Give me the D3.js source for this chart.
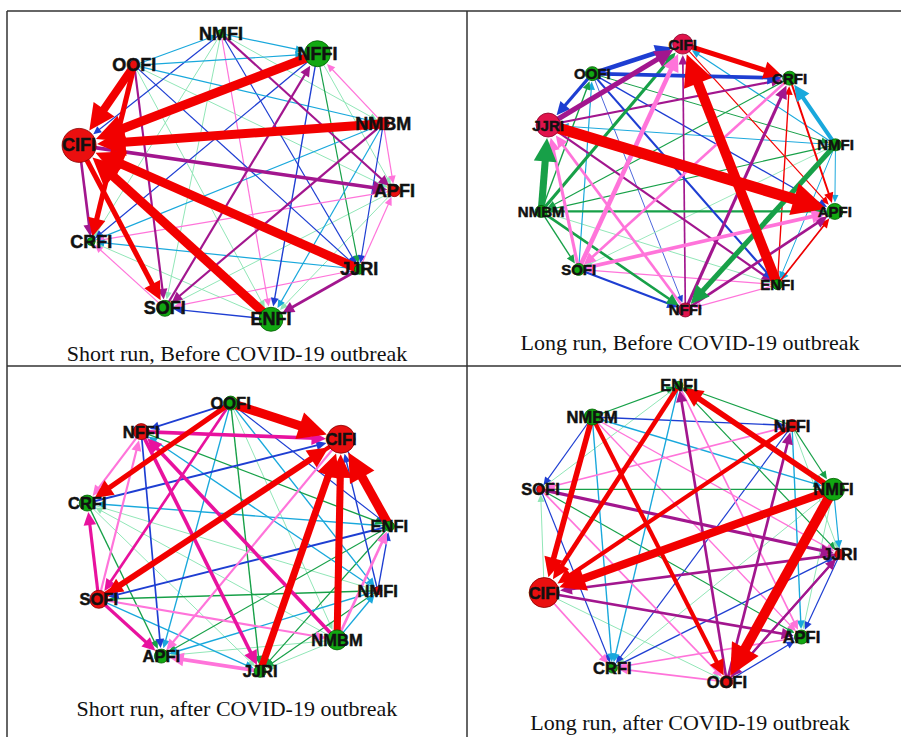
<!DOCTYPE html>
<html>
<head>
<meta charset="utf-8">
<script src="https://cdn.jsdelivr.net/npm/d3@7"></script>
<style>
  body { margin: 0; background: #fff; }
  svg { display: block; }
</style>
</head>
<body>
<div id="chart"></div>
<script>
// ---- data: node order round each ring (angle in degrees, clockwise from top)
const ringSRBefore  = ["NMFI","NFFI","NMBM","APFI","JJRI","ENFI","SOFI","CRFI","CIFI","OOFI"];
const angleSRBefore = [-5, 31, 68, 95, 129, 167, 206, 244, 283, 321];
const ringLRBefore  = ["CIFI","CRFI","NMFI","APFI","ENFI","NFFI","SOFI","NMBM","JJRI","OOFI"];
const angleLRBefore = [-2, 42, 76, 105, 144, 181, 226, 255, 293, 321];
const ringSRAfter   = ["OOFI","CIFI","ENFI","NMFI","NMBM","JJRI","APFI","SOFI","CRFI","NFFI"];
const angleSRAfter  = [-2, 43, 85, 113, 139, 171, 209, 243, 285, 322];
const ringLRAfter   = ["ENFI","NFFI","NMFI","JJRI","APFI","OOFI","CRFI","CIFI","SOFI","NMBM"];
const angleLRAfter  = [-3, 43, 72, 97, 132, 165, 209, 248, 288, 322];

// node colour class and node size
const nodesSRBefore = [["CIFI","r",17],["OOFI","r",5],["NMBM","r",6],["APFI","r",6],["NMFI","g",4],
  ["NFFI","g",13],["JJRI","g",5],["CRFI","g",4],["SOFI","g",8],["ENFI","g",12]];
const nodesLRBefore = [["CIFI","k",10],["CRFI","g",7],["NMFI","g",6],["APFI","g",8],["ENFI","g",5],
  ["NFFI","k",7],["SOFI","g",6],["NMBM","g",6],["JJRI","k",12],["OOFI","g",7]];
const nodesSRAfter = [["OOFI","g",7],["CIFI","r",14],["ENFI","g",5],["NMFI","r",4],["NMBM","g",10],
  ["JJRI","g",6],["APFI","g",7],["SOFI","r",9],["CRFI","g",8],["NFFI","r",8]];
const nodesLRAfter = [["ENFI","g",4],["NFFI","r",6],["NMFI","g",11],["JJRI","r",5],["APFI","g",7],
  ["OOFI","r",6],["CRFI","g",5],["CIFI","r",15],["SOFI","r",4],["NMBM","g",8]];

// directed spillover edges: [from, to, strength, colour class]
const edgesSRBefore = [
  ["OOFI","CIFI",8,"r"],["NFFI","CIFI",9,"r"],["NMBM","CIFI",9,"r"],["JJRI","CIFI",9,"r"],
  ["ENFI","CIFI",9,"r"],["CIFI","SOFI",5,"r"],["OOFI","CRFI",5,"r"],
  ["CIFI","CRFI",2.5,"m"],["CIFI","APFI",3.5,"m"],["NMFI","APFI",2,"m"],["SOFI","NFFI",2,"m"],
  ["NMBM","SOFI",2,"m"],["JJRI","ENFI",2.5,"m"],["OOFI","SOFI",2,"m"],
  ["NMFI","NFFI",1,"c"],["NMFI","NMBM",0.8,"l"],["NMFI","JJRI",1,"b"],["NMFI","ENFI",1,"p"],
  ["NMFI","SOFI",0.8,"l"],["NMFI","CRFI",0.8,"l"],["NMFI","CIFI",1,"b"],["OOFI","NMFI",1,"c"],
  ["NMBM","NFFI",1,"p"],["NFFI","APFI",0.8,"l"],["NFFI","JJRI",1,"g"],["NFFI","ENFI",1.2,"b"],
  ["NFFI","CRFI",1,"b"],["OOFI","NFFI",1,"c"],["NMBM","APFI",1,"p"],["NMBM","JJRI",1,"b"],
  ["NMBM","ENFI",1,"c"],["NMBM","CRFI",1,"c"],["OOFI","NMBM",1,"c"],["JJRI","APFI",1,"p"],
  ["APFI","ENFI",0.8,"l"],["APFI","SOFI",0.8,"l"],["APFI","CRFI",1,"p"],["OOFI","APFI",0.8,"l"],
  ["JJRI","SOFI",1,"p"],["JJRI","CRFI",1,"c"],["OOFI","JJRI",1,"b"],["ENFI","SOFI",1.2,"b"],
  ["ENFI","CRFI",0.8,"l"],["OOFI","ENFI",0.8,"l"],["SOFI","CRFI",1,"p"]
];
const edgesLRBefore = [
  ["JJRI","APFI",11,"r"],["ENFI","CIFI",10,"r"],["CIFI","CRFI",5,"r"],
  ["OOFI","CIFI",4.5,"b"],["OOFI","CRFI",3.5,"b"],["OOFI","JJRI",3,"b"],["JJRI","CIFI",5,"m"],
  ["NMFI","CRFI",4,"c"],["NMFI","NFFI",5,"g"],["NMBM","JJRI",7,"g"],["NMBM","CIFI",3,"g"],
  ["SOFI","CIFI",4.5,"p"],["SOFI","JJRI",3,"p"],["SOFI","APFI",3.5,"p"],["NFFI","JJRI",2.5,"p"],
  ["NFFI","CRFI",3,"m"],["NFFI","CIFI",1.5,"m"],["NFFI","APFI",2.5,"m"],["JJRI","ENFI",2,"m"],
  ["JJRI","CRFI",2,"m"],["NMBM","APFI",2,"g"],["NMBM","NFFI",2.5,"g"],["NMBM","SOFI",1.2,"g"],
  ["NMBM","OOFI",1.2,"g"],["SOFI","NFFI",2,"b"],["SOFI","OOFI",1,"c"],["OOFI","ENFI",2,"b"],
  ["OOFI","APFI",1.2,"b"],["OOFI","NFFI",0.6,"b"],["OOFI","NMFI",0.8,"g"],["CIFI","APFI",1,"r"],
  ["CRFI","APFI",1.8,"r"],["ENFI","CRFI",1.2,"r"],["ENFI","APFI",1.5,"r"],["NMFI","APFI",0.8,"c"],
  ["NMFI","ENFI",0.8,"c"],["NMFI","CIFI",1,"c"],["NMFI","JJRI",0.8,"c"],["NMFI","NMBM",1,"g"],
  ["NMFI","SOFI",0.7,"l"],["CRFI","NMBM",1,"g"],["CRFI","SOFI",2.5,"p"],["APFI","ENFI",0.8,"c"],
  ["ENFI","NFFI",1,"p"],["ENFI","SOFI",1,"p"],["NMBM","ENFI",0.8,"l"],["APFI","SOFI",0.8,"l"]
];
const edgesSRAfter = [
  ["OOFI","CIFI",9,"r"],["OOFI","CRFI",5,"r"],["ENFI","CIFI",9,"r"],["NMBM","CIFI",7,"r"],
  ["JJRI","CIFI",7,"r"],["SOFI","CIFI",6,"r"],["CIFI","SOFI",4,"r"],
  ["NFFI","CIFI",3.5,"h"],["NMBM","NFFI",3.5,"h"],["NFFI","JJRI",3.5,"h"],["OOFI","SOFI",2.5,"h"],
  ["SOFI","APFI",3,"h"],["SOFI","CRFI",3,"h"],
  ["NFFI","CRFI",2,"p"],["SOFI","NFFI",2,"p"],["CIFI","APFI",2,"p"],["NMBM","ENFI",2.5,"p"],
  ["SOFI","NMBM",2,"p"],["JJRI","APFI",3.5,"p"],
  ["OOFI","NFFI",1.5,"b"],["NFFI","APFI",1.5,"b"],["CRFI","CIFI",1.8,"b"],["CIFI","ENFI",1.2,"b"],
  ["NMFI","CIFI",1.2,"b"],["ENFI","SOFI",1.8,"b"],["NMFI","ENFI",1.2,"b"],["OOFI","ENFI",1,"b"],
  ["OOFI","APFI",1.2,"c"],["OOFI","NMFI",1.2,"c"],["NMFI","NFFI",1.2,"c"],["ENFI","CRFI",1.2,"c"],
  ["NMBM","NMFI",1.2,"c"],["NMFI","APFI",1.2,"c"],["SOFI","JJRI",1.2,"c"],
  ["OOFI","JJRI",1.2,"g"],["NFFI","ENFI",1.2,"g"],["ENFI","APFI",1,"g"],["ENFI","JJRI",1,"g"],
  ["NMFI","SOFI",1.2,"g"],["NMFI","JJRI",1,"g"],["CRFI","APFI",1.2,"g"],
  ["OOFI","NMBM",0.8,"l"],["NMBM","JJRI",0.8,"l"],["NMBM","APFI",0.8,"l"],["NMBM","CRFI",0.8,"l"],
  ["CRFI","JJRI",0.8,"l"],["CRFI","NMFI",0.8,"l"]
];
const edgesLRAfter = [
  ["NMFI","OOFI",10,"r"],["NMFI","CIFI",8,"r"],["NMFI","ENFI",5.5,"r"],["NMBM","CIFI",5.5,"r"],
  ["ENFI","CIFI",4.5,"r"],["NFFI","CIFI",4,"r"],["NMBM","OOFI",4,"r"],
  ["OOFI","ENFI",2.5,"m"],["OOFI","NFFI",2.5,"m"],["OOFI","JJRI",2,"m"],["JJRI","OOFI",2,"m"],
  ["SOFI","JJRI",3,"m"],["JJRI","CIFI",2.5,"m"],["CIFI","APFI",2.5,"m"],
  ["CIFI","CRFI",1.5,"p"],["NMBM","JJRI",1.2,"p"],["NMBM","APFI",1.2,"p"],["NFFI","SOFI",1.5,"p"],
  ["ENFI","APFI",1.5,"p"],["SOFI","OOFI",1.5,"p"],["APFI","CRFI",1.5,"p"],["OOFI","CRFI",1.5,"p"],
  ["NMBM","NFFI",1.2,"b"],["NMBM","SOFI",1,"b"],["SOFI","CRFI",1,"b"],["NFFI","CRFI",1,"b"],
  ["CRFI","JJRI",1.2,"b"],["JJRI","APFI",1,"b"],["OOFI","APFI",1,"b"],
  ["NMBM","CRFI",1.2,"c"],["ENFI","CRFI",1.2,"c"],["NMBM","NMFI",1.2,"c"],["NFFI","APFI",1.2,"c"],
  ["NMFI","JJRI",1,"c"],
  ["NMBM","ENFI",1,"g"],["NFFI","NMFI",1,"g"],["NFFI","ENFI",1,"g"],["NMFI","SOFI",1.2,"g"],
  ["ENFI","JJRI",1,"g"],["ENFI","NMFI",1,"g"],["SOFI","APFI",1,"g"],
  ["NFFI","JJRI",0.8,"l"],["NMFI","APFI",0.8,"l"],["NMFI","CRFI",0.8,"l"],["CIFI","SOFI",0.8,"l"],
  ["CIFI","OOFI",0.8,"l"],["SOFI","ENFI",0.8,"l"]
];

const captions = [
  "Short run, Before COVID-19 outbreak",
  "Long run, Before COVID-19 outbreak",
  "Short run, after COVID-19 outbreak",
  "Long run, after COVID-19 outbreak"
];

// ---- layout
const W = 901, H = 737;
const panels = [
  {ring: ringSRBefore, ang: angleSRBefore, nodes: nodesSRBefore, edges: edgesSRBefore,
   cx: 235, cy: 178, rx: 160, ry: 145, font: 18, cap: [237, 361]},
  {ring: ringLRBefore, ang: angleLRBefore, nodes: nodesLRBefore, edges: edgesLRBefore,
   cx: 688, cy: 177, rx: 152, ry: 133, font: 15, cap: [690, 350]},
  {ring: ringSRAfter, ang: angleSRAfter, nodes: nodesSRAfter, edges: edgesSRAfter,
   cx: 236, cy: 538, rx: 154, ry: 135, font: 16.5, cap: [237, 716]},
  {ring: ringLRAfter, ang: angleLRAfter, nodes: nodesLRAfter, edges: edgesLRAfter,
   cx: 687, cy: 536, rx: 154, ry: 151, font: 16.5, cap: [690, 730]}
];

const edgeColor = d3.scaleOrdinal()
  .domain(["r","m","h","p","b","c","g","l"])
  .range(["#f20000","#a2168e","#e8129e","#ff74da","#1e3ed2","#19a8dc","#17a048","#8fe6b6"]);
const nodeFill = d3.scaleOrdinal().domain(["r","g","k"]).range(["#ea0f0f","#12a812","#e0144c"]);
const nodeStroke = d3.scaleOrdinal().domain(["r","g","k"]).range(["#8a0000","#006000","#8a0028"]);
const strokeW = d3.scaleLinear().domain([0, 11]).range([0.2, 11]);
const deg = d3.scaleLinear().domain([0, 360]).range([0, 2 * Math.PI]);

const svg = d3.select("#chart").append("svg")
  .attr("width", W).attr("height", H);

// table frame
const frame = svg.append("g").attr("stroke", "#333").attr("stroke-width", 1.5);
frame.append("line").attr("x1", 7).attr("x2", W).attr("y1", 11).attr("y2", 11);
frame.append("line").attr("x1", 7).attr("x2", 7).attr("y1", 11).attr("y2", H);
frame.append("line").attr("x1", 467).attr("x2", 467).attr("y1", 11).attr("y2", H);
frame.append("line").attr("x1", 7).attr("x2", W).attr("y1", 366).attr("y2", 366);

panels.forEach((p, i) => {
  const x = d3.scaleLinear().domain([-1, 1]).range([p.cx - p.rx, p.cx + p.rx]);
  const y = d3.scaleLinear().domain([-1, 1]).range([p.cy + p.ry, p.cy - p.ry]);
  const pos = new Map(p.ring.map((n, j) => {
    const a = deg(p.ang[j]);
    return [n, [x(Math.sin(a)), y(Math.cos(a))]];
  }));
  const info = new Map(p.nodes.map(d => [d[0], {c: d[1], r: d[2]}]));

  const g = svg.append("g");
  const edges = p.edges.slice().sort((a, b) => a[2] - b[2]);

  const eg = g.append("g");
  edges.forEach(e => {
    const [x0, y0] = pos.get(e[0]);
    const [x1, y1] = pos.get(e[1]);
    const dx = x1 - x0, dy = y1 - y0, len = Math.hypot(dx, dy);
    const ux = dx / len, uy = dy / len;
    const sw = strokeW(e[2]);
    const rT = info.get(e[1]).r;
    const tipX = x1 - ux * (rT + 1), tipY = y1 - uy * (rT + 1);
    const L = 5 + 2.6 * sw, Hh = 2.2 + 1.3 * sw;
    const bx = tipX - ux * L, by = tipY - uy * L;
    const col = edgeColor(e[3]);
    eg.append("line")
      .attr("x1", x0).attr("y1", y0)
      .attr("x2", bx + ux * L * 0.3).attr("y2", by + uy * L * 0.3)
      .attr("stroke", col).attr("stroke-width", sw);
    eg.append("path")
      .attr("d", `M${tipX},${tipY}L${bx - uy * Hh},${by + ux * Hh}L${bx + uy * Hh},${by - ux * Hh}Z`)
      .attr("fill", col);
  });

  g.append("g").selectAll("circle")
    .data(p.ring)
    .join("circle")
    .attr("cx", d => pos.get(d)[0])
    .attr("cy", d => pos.get(d)[1])
    .attr("r", d => info.get(d).r)
    .attr("fill", d => nodeFill(info.get(d).c))
    .attr("stroke", d => nodeStroke(info.get(d).c))
    .attr("stroke-width", 0.8);

  g.append("g").selectAll("text")
    .data(p.ring)
    .join("text")
    .attr("x", d => pos.get(d)[0])
    .attr("y", d => pos.get(d)[1])
    .attr("text-anchor", "middle")
    .attr("dominant-baseline", "central")
    .attr("font-family", "'Liberation Sans', Arial, sans-serif")
    .attr("font-weight", "bold")
    .attr("font-size", p.font)
    .attr("fill", "#111")
    .attr("stroke", "#111").attr("stroke-width", 0.5)
    .text(d => d);

  svg.append("text")
    .attr("x", p.cap[0]).attr("y", p.cap[1])
    .attr("text-anchor", "middle")
    .attr("font-family", "'Liberation Serif', 'Times New Roman', serif")
    .attr("font-size", 22)
    .attr("fill", "#111")
    .text(captions[i]);
});
</script>
</body>
</html>
